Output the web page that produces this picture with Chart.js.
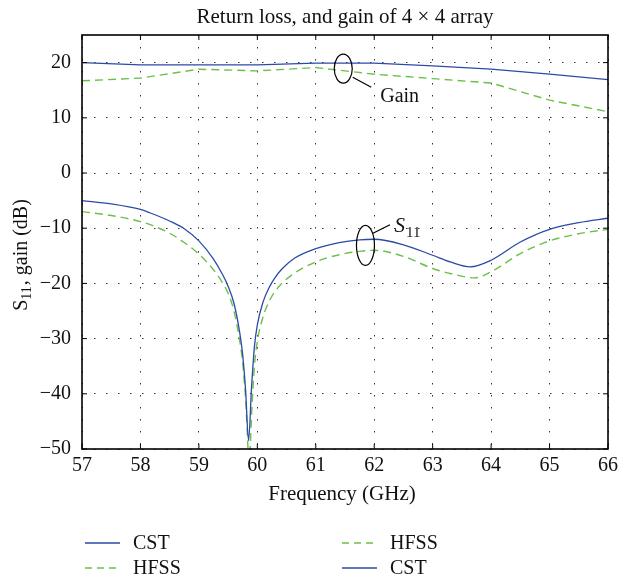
<!DOCTYPE html>
<html><head><meta charset="utf-8">
<script src="https://cdn.jsdelivr.net/npm/chart.js@4/dist/chart.umd.min.js"></script>
<style>html,body{margin:0;padding:0;background:#fff}#wrap{width:618px;height:580px;position:relative}</style>
</head><body><div id="wrap"><canvas id="c" width="618" height="580"></canvas></div>
<script>
// ---- data ----
const cstFreq  = [57,57.5,58,58.16,58.5,58.75,59,59.25,59.4,59.5,59.6,59.7,59.75,59.8,59.85,59.9,59.95,60,60.1,60.2,60.3,60.42,60.64,61,61.4,61.75,62,62.5,63,63.3,63.64,64,64.5,65,65.5,66];
const cstS11   = [-5.0,-5.6,-6.6,-7.2,-8.7,-10.1,-12.3,-15.6,-18.3,-20.5,-23.6,-29,-33,-39.5,-48.5,-39,-31.5,-27.5,-23.3,-20.8,-19.0,-17.4,-15.4,-13.7,-12.6,-12.1,-12.0,-13.0,-14.9,-16.1,-17.0,-15.8,-12.5,-10.2,-9.0,-8.2];
const hfssFreq = [57,57.5,58,58.25,58.5,58.75,59,59.2,59.4,59.5,59.6,59.7,59.75,59.8,59.86,59.91,59.95,60,60.1,60.2,60.3,60.4,60.6,61,61.4,61.75,62,62.5,63,63.3,63.72,64,64.5,65,65.5,66];
const hfssS11  = [-7.0,-7.7,-8.8,-9.7,-10.9,-12.6,-14.7,-16.9,-19.8,-21.8,-25.0,-30.5,-34.5,-41,-52,-42,-35,-30.5,-26.0,-23.3,-21.5,-20.2,-18.4,-16.1,-14.8,-14.2,-14.0,-15.1,-17.3,-18.2,-19.0,-17.9,-14.6,-12.3,-11.0,-10.2];
const gainFreq = [57,58,59,60,61,62,63,64,65,66];
const gainCST  = [20.0,19.6,19.6,19.6,19.9,19.9,19.4,18.8,17.9,16.9];
const gainHFSS = [16.7,17.2,18.8,18.5,19.1,17.9,17.1,16.3,13.2,11.1];
const xTicks = [57,58,59,60,61,62,63,64,65,66];
const yTicks = [-50,-40,-30,-20,-10,0,10,20];
const seriesNames = ['CST','HFSS','HFSS','CST'];
const titleText = 'Return loss, and gain of 4 \u00d7 4 array';
const xTitle = 'Frequency (GHz)';
const gainNote = {x:61.47, y:18.9, text:'Gain'};
const s11Note = {x:61.85, y:-13.1, text:'S', sub:'11'};

const BLUE = '#2c4aa6', GREEN = '#6cc04a';
const FONT = '"Liberation Serif", "Times New Roman", serif';
const pts = (xs, ys) => xs.map((v,i)=>({x:v, y:ys[i]}));

const deco = {
  id:'deco',
  afterDraw(chart){
    const {ctx, chartArea:a, scales:{x,y}} = chart;
    ctx.save();
    ctx.setLineDash([]);
    ctx.strokeStyle = '#000';
    // frame
    ctx.lineWidth = 1.6;
    ctx.strokeRect(a.left, a.top, a.right-a.left, a.bottom-a.top);
    // inward ticks
    ctx.lineWidth = 1;
    ctx.beginPath();
    xTicks.forEach(v=>{const p=x.getPixelForValue(v); ctx.moveTo(p,a.bottom); ctx.lineTo(p,a.bottom-5); ctx.moveTo(p,a.top); ctx.lineTo(p,a.top+5);});
    yTicks.forEach(v=>{const p=y.getPixelForValue(v); ctx.moveTo(a.left,p); ctx.lineTo(a.left+5,p); ctx.moveTo(a.right,p); ctx.lineTo(a.right-5,p);});
    ctx.stroke();
    ctx.fillStyle = '#111';
    // title
    ctx.font = '21px ' + FONT;
    ctx.textAlign = 'center'; ctx.textBaseline = 'middle';
    ctx.fillText(titleText, (a.left+a.right)/2, 17);
    // x title
    ctx.fillText(xTitle, (a.left+a.right)/2 - 3, 494);
    // y title with subscript
    ctx.save();
    ctx.translate(20, 255);
    ctx.rotate(-Math.PI/2);
    ctx.textBaseline = 'alphabetic'; ctx.textAlign = 'left';
    const f1 = '20px ' + FONT, f2 = '14px ' + FONT;
    ctx.font = f1; const wS = ctx.measureText('S').width;
    ctx.font = f2; const w11 = ctx.measureText('11').width;
    ctx.font = f1; const wR = ctx.measureText(', gain (dB)').width;
    let sx = -(wS + w11 + 1 + wR)/2;
    ctx.font = f1; ctx.fillText('S', sx, 7); sx += wS;
    ctx.font = f2; ctx.fillText('11', sx, 11); sx += w11 + 1;
    ctx.font = f1; ctx.fillText(', gain (dB)', sx, 7);
    ctx.restore();
    // annotations
    ctx.lineWidth = 1.2; ctx.strokeStyle = '#000';
    let cx = x.getPixelForValue(gainNote.x), cy = y.getPixelForValue(gainNote.y);
    ctx.beginPath(); ctx.ellipse(cx, cy, 9, 14.5, 0, 0, Math.PI*2); ctx.stroke();
    ctx.beginPath(); ctx.moveTo(cx+9.5, cy+8.5); ctx.lineTo(cx+28, cy+18.5); ctx.stroke();
    ctx.font = '20px ' + FONT; ctx.textAlign='left'; ctx.textBaseline='middle';
    ctx.fillText(gainNote.text, cx+37, cy+28);
    cx = x.getPixelForValue(s11Note.x); cy = y.getPixelForValue(s11Note.y);
    ctx.beginPath(); ctx.ellipse(cx, cy, 9, 20, 0, 0, Math.PI*2); ctx.stroke();
    ctx.beginPath(); ctx.moveTo(cx+7.5, cy-12); ctx.lineTo(cx+24.5, cy-20.5); ctx.stroke();
    ctx.textBaseline='alphabetic';
    ctx.font = 'italic 21px ' + FONT; ctx.fillText(s11Note.text, cx+29, cy-13);
    const ws = ctx.measureText(s11Note.text).width;
    ctx.font = '15px ' + FONT; ctx.fillText(s11Note.sub, cx+29+ws+1, cy-8);
    // legend (column-major: S11 pair, then gain pair)
    const ds = chart.data.datasets;
    const cols = [85, 342], rows = [543, 568];
    ds.forEach((d,i)=>{
      const lx = cols[Math.floor(i/2)], ly = rows[i%2];
      ctx.strokeStyle = d.borderColor; ctx.lineWidth = d.borderWidth;
      ctx.setLineDash(d.borderDash ? [7,5] : []);
      ctx.beginPath(); ctx.moveTo(lx, ly); ctx.lineTo(lx+35, ly); ctx.stroke();
      ctx.setLineDash([]);
      ctx.fillStyle = '#111'; ctx.font = '20px ' + FONT; ctx.textBaseline='middle'; ctx.textAlign='left';
      ctx.fillText(d.label, lx+48, ly+1);
    });
    ctx.restore();
  }
};

new Chart(document.getElementById('c'), {
  type:'line',
  data:{datasets:[
    {label:seriesNames[0], data:pts(cstFreq,cstS11), borderColor:BLUE, borderWidth:1.3, pointRadius:0, cubicInterpolationMode:'monotone', fill:false},
    {label:seriesNames[1], data:pts(hfssFreq,hfssS11), borderColor:GREEN, borderWidth:1.4, borderDash:[8,5], pointRadius:0, cubicInterpolationMode:'monotone', fill:false},
    {label:seriesNames[2], data:pts(gainFreq,gainHFSS), borderColor:GREEN, borderWidth:1.4, borderDash:[8,5], pointRadius:0, tension:0, fill:false},
    {label:seriesNames[3], data:pts(gainFreq,gainCST), borderColor:BLUE, borderWidth:1.3, pointRadius:0, tension:0, fill:false}
  ]},
  options:{
    responsive:false, animation:false, devicePixelRatio:1,
    layout:{padding:{top:35, right:10, bottom:0, left:0}},
    plugins:{legend:{display:false}, title:{display:false}, tooltip:{enabled:false}},
    scales:{
      x:{type:'linear', min:57, max:66,
        afterBuildTicks:s=>{s.ticks = xTicks.map(v=>({value:v}));},
        afterFit:s=>{s.height = 131; s.paddingLeft = 0; s.paddingRight = 0;},
        ticks:{color:'#111', font:{family:FONT, size:20}, padding:5, maxRotation:0},
        grid:{color:'#333', lineWidth:1, drawTicks:false},
        border:{display:false, dash:[1.5,10.5]}
      },
      y:{type:'linear', min:-50, max:25,
        afterBuildTicks:s=>{s.ticks = yTicks.map(v=>({value:v}));},
        afterFit:s=>{s.width = 82; s.paddingTop = 0; s.paddingBottom = 0;},
        ticks:{color:'#111', font:{family:FONT, size:20}, padding:11,
          callback:v=>String(v).replace('-', '\u2212')},
        grid:{color:'#333', lineWidth:1, drawTicks:false},
        border:{display:false, dash:[1.5,10.5]}
      }
    }
  },
  plugins:[deco]
});
</script>
</body></html>
